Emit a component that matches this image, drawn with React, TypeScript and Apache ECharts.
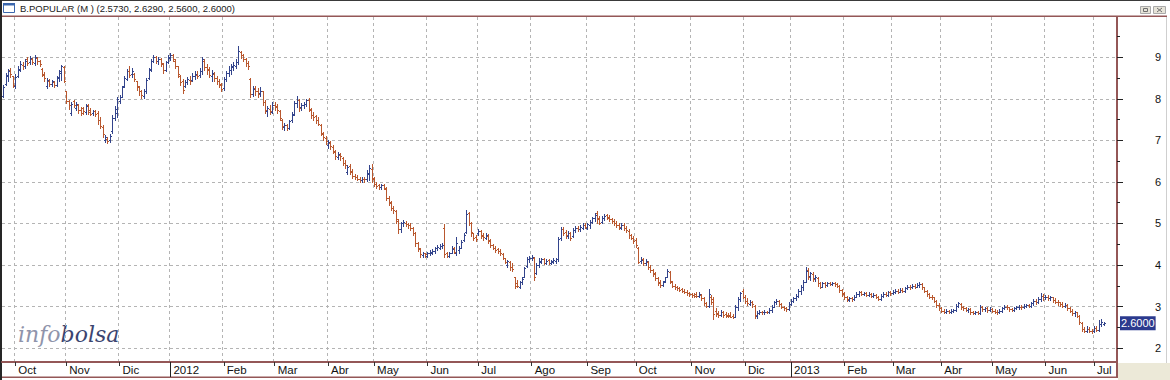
import React, { useEffect, useRef } from 'react';
import * as echarts from 'echarts';

// Daily bars: [open, high, low, close]
const sep11 = [[8.08,8.33,8.05,8.28],[8.35,8.62,8.33,8.58],[8.55,8.72,8.42,8.66],[8.70,8.74,8.53,8.60],[8.55,8.56,8.28,8.34]];
const oct11 = [[8.30,8.60,8.26,8.52],[8.55,8.80,8.52,8.72],[8.70,8.90,8.66,8.85],[8.82,8.88,8.72,8.78],[8.78,8.96,8.74,8.92],[8.95,9.00,8.82,8.86],[8.88,9.02,8.84,8.98],[8.96,8.99,8.83,8.88],[8.86,9.06,8.81,9.00],[8.98,9.00,8.85,8.90],[8.90,8.94,8.78,8.84],[8.72,8.74,8.55,8.58],[8.60,8.64,8.44,8.50],[8.30,8.50,8.26,8.46],[8.44,8.47,8.30,8.36],[8.35,8.46,8.30,8.42],[8.40,8.42,8.28,8.33],[8.34,8.55,8.30,8.52],[8.50,8.70,8.42,8.66],[8.62,8.82,8.45,8.78],[8.76,8.80,8.40,8.44]];
const nov11 = [[8.18,8.20,7.90,7.95],[7.95,7.97,7.76,7.85],[7.66,7.93,7.60,7.88],[7.95,7.98,7.80,7.86],[7.78,7.92,7.72,7.88],[7.85,7.88,7.65,7.72],[7.74,7.80,7.60,7.66],[7.78,7.80,7.64,7.70],[7.68,7.88,7.64,7.82],[7.84,7.88,7.63,7.68],[7.72,7.77,7.60,7.64],[7.66,7.74,7.62,7.70],[7.70,7.73,7.58,7.63],[7.66,7.70,7.40,7.50],[7.50,7.56,7.30,7.34],[7.32,7.36,7.08,7.15],[7.02,7.12,6.96,7.08],[7.04,7.08,6.94,6.98],[7.00,7.16,6.97,7.10],[7.22,7.60,7.17,7.55],[7.55,7.82,7.50,7.76],[7.65,8.05,7.57,8.00]];
const dec11 = [[7.95,8.10,7.90,8.05],[8.05,8.32,8.05,8.28],[8.30,8.54,8.28,8.50],[8.48,8.72,8.45,8.66],[8.68,8.78,8.52,8.58],[8.60,8.74,8.52,8.68],[8.60,8.62,8.44,8.48],[8.42,8.44,8.22,8.28],[8.30,8.32,8.10,8.20],[8.18,8.22,8.02,8.10],[8.08,8.24,8.02,8.18],[8.20,8.50,8.15,8.45],[8.50,8.74,8.48,8.70],[8.72,8.96,8.66,8.92],[8.92,9.05,8.88,9.00],[9.00,9.02,8.86,8.90],[8.90,9.00,8.84,8.95],[8.96,8.98,8.80,8.86],[8.84,8.86,8.62,8.70],[8.70,8.92,8.66,8.88],[8.88,9.05,8.86,9.00]];
const jan12 = [[8.98,9.10,8.94,9.05],[9.05,9.08,8.90,8.95],[8.92,8.96,8.74,8.80],[8.78,8.80,8.52,8.60],[8.55,8.58,8.34,8.40],[8.42,8.48,8.14,8.22],[8.30,8.46,8.28,8.40],[8.40,8.52,8.36,8.48],[8.46,8.55,8.36,8.42],[8.45,8.62,8.42,8.55],[8.55,8.66,8.48,8.60],[8.58,8.68,8.50,8.56],[8.58,8.74,8.52,8.68],[8.66,9.00,8.60,8.95],[8.92,8.96,8.70,8.76],[8.76,8.84,8.60,8.70],[8.72,8.76,8.52,8.58],[8.56,8.70,8.44,8.62],[8.60,8.64,8.42,8.50],[8.50,8.56,8.36,8.44],[8.44,8.48,8.28,8.35],[8.34,8.38,8.20,8.24]];
const feb12 = [[8.25,8.52,8.22,8.48],[8.48,8.66,8.44,8.62],[8.62,8.80,8.55,8.70],[8.70,8.84,8.60,8.78],[8.76,8.88,8.70,8.82],[8.80,8.95,8.74,8.88],[8.88,9.27,8.85,9.15],[9.12,9.16,8.98,9.05],[9.05,9.08,8.90,8.96],[8.95,8.98,8.80,8.86],[8.86,8.90,8.72,8.78],[8.48,8.50,8.05,8.12],[8.12,8.30,8.08,8.24],[8.26,8.30,8.10,8.18],[8.20,8.26,8.05,8.12],[8.14,8.28,8.08,8.20],[8.18,8.20,7.86,7.92],[7.92,7.96,7.65,7.72],[7.70,7.82,7.58,7.78],[7.76,7.84,7.64,7.70],[7.68,7.93,7.65,7.86]];
const mar12 = [[7.86,7.92,7.72,7.80],[7.82,7.88,7.66,7.72],[7.70,7.74,7.50,7.55],[7.50,7.52,7.28,7.34],[7.32,7.42,7.25,7.38],[7.36,7.40,7.24,7.30],[7.30,7.50,7.28,7.46],[7.48,7.68,7.44,7.62],[7.64,7.94,7.62,7.90],[7.90,8.06,7.80,7.98],[7.96,8.00,7.70,7.78],[7.80,7.90,7.72,7.84],[7.84,7.92,7.78,7.88],[7.88,8.00,7.82,7.96],[7.98,8.02,7.70,7.76],[7.74,7.78,7.55,7.62],[7.62,7.68,7.50,7.56],[7.58,7.62,7.42,7.50],[7.50,7.56,7.36,7.40],[7.38,7.40,7.12,7.18],[7.15,7.20,7.00,7.08],[7.06,7.10,6.92,6.98]];
const apr12 = [[6.88,7.00,6.82,6.95],[6.94,6.98,6.80,6.86],[6.84,6.88,6.70,6.74],[6.72,6.76,6.55,6.62],[6.60,6.72,6.54,6.68],[6.66,6.70,6.52,6.62],[6.58,6.60,6.40,6.46],[6.46,6.52,6.34,6.40],[6.24,6.40,6.18,6.36],[6.38,6.42,6.20,6.26],[6.24,6.30,6.10,6.14],[6.14,6.20,6.06,6.12],[6.12,6.17,6.04,6.08],[6.08,6.12,6.00,6.05],[6.04,6.11,6.00,6.08],[6.08,6.12,6.00,6.06],[6.06,6.28,6.02,6.22],[6.20,6.40,6.04,6.34],[6.30,6.42,6.00,6.10]];
const may12 = [[6.08,6.12,5.90,5.95],[5.96,6.00,5.86,5.90],[5.92,5.96,5.84,5.88],[5.88,5.96,5.84,5.92],[5.92,5.94,5.82,5.86],[5.84,5.88,5.56,5.62],[5.62,5.66,5.44,5.52],[5.50,5.54,5.32,5.38],[5.38,5.42,5.26,5.32],[5.30,5.32,5.02,5.10],[5.06,5.10,4.78,4.86],[4.86,5.04,4.80,5.00],[5.00,5.08,4.94,5.04],[5.02,5.06,4.93,4.98],[4.98,5.02,4.90,4.96],[4.96,5.00,4.84,4.88],[4.88,4.92,4.72,4.78],[4.76,4.80,4.46,4.54],[4.52,4.56,4.34,4.40],[4.38,4.42,4.20,4.26],[4.24,4.32,4.20,4.28],[4.28,4.30,4.20,4.26]];
const jun12 = [[4.22,4.32,4.20,4.28],[4.28,4.36,4.24,4.32],[4.30,4.38,4.26,4.34],[4.34,4.44,4.30,4.40],[4.40,4.48,4.36,4.44],[4.42,4.50,4.38,4.46],[4.46,4.52,4.40,4.48],[4.90,4.98,4.20,4.26],[4.28,4.32,4.20,4.22],[4.22,4.32,4.20,4.28],[4.30,4.45,4.28,4.38],[4.40,4.44,4.28,4.32],[4.30,4.67,4.25,4.52],[4.36,4.46,4.28,4.40],[4.42,4.60,4.40,4.56],[4.60,4.76,4.58,4.72],[4.80,5.32,4.77,5.22],[5.24,5.28,4.97,5.02],[5.00,5.04,4.70,4.80],[4.76,4.78,4.60,4.66],[4.68,4.72,4.58,4.62]];
const jul12 = [[4.76,4.86,4.72,4.82],[4.82,4.84,4.64,4.70],[4.72,4.76,4.60,4.68],[4.66,4.78,4.62,4.72],[4.70,4.74,4.54,4.60],[4.58,4.62,4.44,4.48],[4.48,4.50,4.38,4.42],[4.42,4.46,4.32,4.36],[4.38,4.42,4.28,4.34],[4.34,4.38,4.24,4.28],[4.26,4.30,4.14,4.18],[4.16,4.18,4.04,4.08],[4.00,4.12,3.96,4.10],[4.08,4.10,3.88,3.94],[3.96,4.05,3.86,3.90],[3.70,3.72,3.44,3.50],[3.56,3.64,3.46,3.50],[3.48,3.62,3.45,3.58],[3.58,3.72,3.55,3.66],[3.72,3.96,3.70,3.92],[3.98,4.20,3.96,4.15],[4.14,4.22,4.08,4.18]];
const aug12 = [[4.16,4.24,4.12,4.20],[4.18,4.20,3.65,3.72],[3.80,4.06,3.78,4.00],[4.00,4.16,3.96,4.10],[4.08,4.18,4.04,4.14],[4.14,4.16,4.02,4.06],[4.06,4.14,4.02,4.10],[4.12,4.14,4.02,4.06],[4.06,4.12,4.03,4.10],[4.08,4.16,4.04,4.12],[4.10,4.18,4.06,4.14],[4.14,4.67,4.10,4.62],[4.64,4.92,4.60,4.86],[4.86,4.92,4.72,4.78],[4.80,4.84,4.66,4.72],[4.70,4.82,4.64,4.78],[4.76,4.80,4.60,4.66],[4.70,4.88,4.68,4.84],[4.84,4.94,4.80,4.90],[4.90,4.94,4.82,4.86],[4.86,4.96,4.82,4.92],[4.90,5.00,4.86,4.96],[4.96,5.00,4.88,4.92]];
const sep12 = [[4.90,5.02,4.86,4.98],[4.96,5.08,4.90,5.04],[5.04,5.16,5.00,5.12],[5.12,5.24,5.06,5.20],[5.24,5.30,5.02,5.10],[5.12,5.18,4.98,5.02],[5.04,5.18,5.02,5.14],[5.12,5.22,5.08,5.18],[5.20,5.22,5.10,5.14],[5.16,5.20,5.06,5.10],[5.10,5.14,5.00,5.06],[5.06,5.10,4.96,5.00],[5.00,5.06,4.92,4.96],[4.96,5.00,4.86,4.92],[4.88,5.00,4.86,4.96],[4.96,5.00,4.84,4.90],[4.90,4.94,4.80,4.84],[4.82,4.86,4.66,4.72],[4.72,4.74,4.62,4.66],[4.66,4.70,4.54,4.58]];
const oct12 = [[4.60,4.64,4.44,4.48],[4.40,4.43,4.04,4.08],[4.10,4.20,4.04,4.12],[4.14,4.18,4.00,4.06],[4.04,4.14,4.00,4.10],[4.08,4.10,3.90,3.94],[3.96,4.00,3.84,3.88],[3.88,3.90,3.74,3.78],[3.80,3.84,3.64,3.68],[3.68,3.70,3.52,3.56],[3.58,3.64,3.48,3.52],[3.52,3.62,3.50,3.60],[3.62,3.72,3.60,3.70],[3.72,3.90,3.70,3.86],[3.84,3.86,3.56,3.62],[3.60,3.62,3.46,3.50],[3.50,3.54,3.43,3.46],[3.46,3.50,3.40,3.44],[3.44,3.46,3.37,3.40],[3.42,3.45,3.36,3.38],[3.38,3.42,3.32,3.36],[3.36,3.40,3.28,3.32],[3.32,3.36,3.26,3.30]];
const nov12 = [[3.30,3.33,3.24,3.28],[3.28,3.32,3.24,3.26],[3.30,3.34,3.23,3.26],[3.25,3.34,3.24,3.30],[3.28,3.30,3.16,3.20],[3.20,3.22,3.04,3.08],[3.08,3.12,2.98,3.02],[3.02,3.42,3.00,3.30],[3.24,3.28,3.05,3.10],[3.18,3.22,2.70,2.82],[2.90,2.96,2.78,2.82],[2.84,2.90,2.76,2.80],[2.80,2.92,2.77,2.86],[2.86,2.90,2.74,2.80],[2.82,2.86,2.74,2.78],[2.80,2.84,2.75,2.78],[2.80,2.86,2.74,2.76],[2.78,2.82,2.73,2.76],[2.76,3.03,2.75,2.98],[2.98,3.22,2.92,3.18],[3.18,3.36,3.14,3.32],[3.38,3.42,3.20,3.24]];
const dec12 = [[3.24,3.28,3.08,3.14],[3.14,3.20,3.04,3.08],[3.06,3.16,3.04,3.12],[3.12,3.14,3.00,3.06],[3.02,3.04,2.72,2.80],[2.78,2.90,2.72,2.84],[2.84,2.92,2.82,2.88],[2.88,2.90,2.83,2.86],[2.86,2.91,2.82,2.88],[2.88,2.90,2.84,2.86],[2.86,2.96,2.84,2.92],[2.92,3.03,2.88,3.00],[3.00,3.14,2.98,3.10],[3.10,3.18,3.06,3.14],[3.14,3.16,3.02,3.06],[3.06,3.08,2.96,3.00],[3.00,3.02,2.92,2.96],[2.96,3.00,2.90,2.94],[2.94,3.10,2.92,3.06]];
const jan13 = [[3.06,3.18,3.04,3.14],[3.14,3.24,3.10,3.20],[3.20,3.30,3.16,3.26],[3.26,3.42,3.24,3.38],[3.38,3.52,3.30,3.48],[3.48,3.63,3.40,3.58],[3.60,3.95,3.58,3.86],[3.88,3.92,3.66,3.72],[3.74,3.84,3.64,3.80],[3.78,3.82,3.62,3.66],[3.68,3.76,3.62,3.70],[3.68,3.70,3.50,3.56],[3.56,3.58,3.44,3.48],[3.48,3.60,3.46,3.56],[3.56,3.58,3.48,3.52],[3.52,3.59,3.50,3.56],[3.56,3.58,3.51,3.54],[3.54,3.59,3.51,3.56],[3.56,3.58,3.50,3.54],[3.54,3.57,3.46,3.50],[3.50,3.52,3.36,3.40],[3.40,3.42,3.26,3.30]];
const feb13 = [[3.32,3.36,3.18,3.22],[3.22,3.26,3.14,3.18],[3.16,3.24,3.14,3.20],[3.20,3.24,3.14,3.18],[3.18,3.28,3.16,3.24],[3.24,3.34,3.22,3.30],[3.30,3.38,3.26,3.34],[3.34,3.37,3.27,3.30],[3.30,3.36,3.27,3.32],[3.32,3.35,3.25,3.28],[3.28,3.34,3.25,3.30],[3.30,3.33,3.23,3.26],[3.26,3.32,3.22,3.28],[3.28,3.31,3.20,3.24],[3.24,3.26,3.15,3.18],[3.18,3.30,3.15,3.26],[3.26,3.34,3.23,3.30],[3.30,3.35,3.25,3.28],[3.28,3.38,3.26,3.34],[3.34,3.38,3.28,3.32]];
const mar13 = [[3.32,3.40,3.29,3.36],[3.36,3.42,3.32,3.38],[3.38,3.42,3.33,3.36],[3.36,3.44,3.34,3.40],[3.40,3.44,3.35,3.38],[3.38,3.48,3.36,3.44],[3.44,3.52,3.42,3.48],[3.48,3.52,3.43,3.46],[3.46,3.54,3.44,3.50],[3.50,3.54,3.45,3.48],[3.48,3.56,3.46,3.52],[3.52,3.59,3.48,3.54],[3.54,3.56,3.42,3.46],[3.46,3.48,3.34,3.38],[3.38,3.40,3.26,3.30],[3.30,3.32,3.20,3.24],[3.24,3.28,3.18,3.22],[3.22,3.24,3.10,3.14],[3.14,3.16,3.00,3.04],[3.04,3.08,2.92,2.96]];
const apr13 = [[2.96,2.98,2.86,2.90],[2.90,2.93,2.85,2.88],[2.88,2.93,2.85,2.90],[2.90,2.92,2.84,2.87],[2.87,2.93,2.85,2.90],[2.90,2.95,2.86,2.92],[2.92,3.06,2.90,3.02],[3.02,3.12,2.98,3.08],[3.06,3.08,2.94,2.98],[2.98,3.02,2.92,2.96],[2.96,2.98,2.89,2.92],[2.92,2.97,2.88,2.94],[2.94,2.96,2.83,2.86],[2.86,2.89,2.81,2.84],[2.84,2.90,2.81,2.86],[2.86,2.90,2.82,2.84],[2.84,3.04,2.83,2.98],[2.98,3.02,2.90,2.94],[2.94,3.00,2.90,2.96],[2.96,2.99,2.88,2.92],[2.92,2.98,2.89,2.94]];
const may13 = [[2.94,2.96,2.86,2.90],[2.90,2.93,2.85,2.88],[2.88,2.91,2.83,2.86],[2.86,2.93,2.84,2.90],[2.90,2.99,2.88,2.96],[2.96,3.04,2.94,3.00],[3.00,3.04,2.94,2.98],[2.98,3.00,2.90,2.94],[2.94,2.97,2.89,2.92],[2.92,2.99,2.90,2.96],[2.96,3.01,2.93,2.98],[2.98,3.03,2.95,3.00],[3.00,3.04,2.95,2.98],[2.98,3.05,2.96,3.02],[3.02,3.07,2.98,3.04],[3.04,3.07,2.99,3.02],[3.02,3.12,3.00,3.08],[3.08,3.18,3.04,3.14],[3.14,3.18,3.06,3.10],[3.10,3.24,3.08,3.18],[3.18,3.32,3.14,3.26],[3.26,3.30,3.16,3.22]];
const jun13 = [[3.22,3.28,3.18,3.24],[3.24,3.28,3.16,3.20],[3.20,3.26,3.16,3.22],[3.22,3.24,3.12,3.16],[3.16,3.20,3.08,3.12],[3.12,3.16,3.04,3.10],[3.10,3.12,3.02,3.06],[3.06,3.10,2.98,3.02],[3.02,3.08,2.98,3.04],[3.04,3.06,2.92,2.96],[2.96,2.98,2.86,2.90],[2.90,2.94,2.80,2.84],[2.84,2.90,2.78,2.86],[2.86,2.88,2.74,2.78],[2.78,2.80,2.58,2.62],[2.60,2.62,2.42,2.46],[2.46,2.50,2.38,2.42],[2.42,2.52,2.39,2.46],[2.46,2.50,2.38,2.42],[2.42,2.46,2.36,2.40]];
const jul13 = [[2.40,2.54,2.38,2.48],[2.48,2.52,2.40,2.44],[2.44,2.68,2.42,2.58],[2.58,2.70,2.54,2.62],[2.573,2.629,2.56,2.60]];

const MONTH_BARS = [sep11, oct11, nov11, dec11, jan12, feb12, mar12, apr12, may12, jun12, jul12, aug12, sep12, oct12, nov12, dec12, jan13, feb13, mar13, apr13, may13, jun13, jul13];
const MONTH_LABELS = ['', 'Oct', 'Nov', 'Dic', '2012', 'Feb', 'Mar', 'Abr', 'May', 'Jun', 'Jul', 'Ago', 'Sep', 'Oct', 'Nov', 'Dic', '2013', 'Feb', 'Mar', 'Abr', 'May', 'Jun', 'Jul'];
const PAD_SLOTS = 5;
const Y_TICKS = [2, 3, 4, 5, 6, 7, 8, 9];
const Y_MINOR = [2.5, 3.5, 4.5, 5.5, 6.5, 7.5, 8.5, 9.5];
const SYMBOL = 'B.POPULAR (M )';

const BLUE = '#33448c';
const RED = '#b9582f';
const FRAME = '#945757';
const GRIDC = '#b4b4b4';

export default function App() {
  const ref = useRef<HTMLDivElement>(null);
  useEffect(() => {
    document.body.style.margin = '0';
    const chart = echarts.init(ref.current!, null, { renderer: 'svg' });
    const cats: string[] = [];
    const labels: string[] = [];
    const data: number[][] = [];
    MONTH_BARS.forEach((bars, m) => {
      bars.forEach((b, k) => {
        const idx = cats.length;
        cats.push(m + '-' + k);
        labels.push(k === 0 ? MONTH_LABELS[m] : '');
        data.push([idx, b[0], b[1], b[2], b[3]]);
      });
    });
    for (let p = 0; p < PAD_SLOTS; p++) { cats.push('pad-' + p); labels.push(''); }
    const isMonth = (i: number) => !!labels[i];
    const isYear = (i: number) => /^\d{4}$/.test(labels[i] || '');
    const last = data[data.length - 1];
    const title = SYMBOL + ' (' + [last[1], last[2], last[3], last[4]].map((v) => v.toFixed(4)).join(', ') + ')';
    const lastClose = last[4];

    const yBase = { type: 'value', min: 1.665, max: 9.97, position: 'right', scale: true };

    chart.setOption({
      animation: false,
      backgroundColor: '#ffffff',
      grid: { left: 2, right: 53, top: 17, bottom: 18, containLabel: false },
      xAxis: [
        {
          type: 'category', data: cats, boundaryGap: true, position: 'bottom',
          axisLine: { show: true, lineStyle: { color: FRAME, width: 2 } },
          axisTick: { show: true, alignWithLabel: true, interval: (i: number) => isMonth(i), length: 4, lineStyle: { color: '#333', width: 1 } },
          axisLabel: {
            show: true, interval: (i: number) => isMonth(i), formatter: (_v: string, i: number) => labels[i],
            align: 'left', margin: 2, padding: [0, 0, 0, 3], color: '#111', fontSize: 11.5, fontFamily: 'Liberation Sans',
          },
          splitLine: { show: true, interval: (i: number) => isMonth(i), lineStyle: { color: GRIDC, type: [3, 3], width: 1 } },
        },
        {
          type: 'category', data: cats, boundaryGap: true, position: 'bottom',
          axisLine: { show: false },
          axisTick: { show: true, alignWithLabel: true, interval: (i: number) => isYear(i), length: 15, lineStyle: { color: '#222', width: 1 } },
          axisLabel: { show: false },
          splitLine: { show: false },
        },
      ],
      yAxis: [
        {
          ...yBase,
          axisLine: { show: true, lineStyle: { color: FRAME, width: 2 } },
          axisTick: { show: true, customValues: Y_TICKS, length: 6, lineStyle: { color: '#222', width: 1 } },
          axisLabel: { show: true, customValues: Y_TICKS, align: 'right', margin: 44, color: '#111', fontSize: 11, fontFamily: 'Liberation Sans' },
          splitLine: { show: true, lineStyle: { color: GRIDC, type: [3, 3], width: 1 } },
        },
        {
          ...yBase,
          axisLine: { show: false },
          axisTick: { show: true, customValues: Y_MINOR, length: 3, lineStyle: { color: '#222', width: 1 } },
          axisLabel: { show: false },
          splitLine: { show: false },
        },
        {
          ...yBase,
          axisLine: { show: false },
          axisTick: { show: false },
          axisLabel: {
            show: true, customValues: [lastClose], formatter: () => lastClose.toFixed(4),
            align: 'left', margin: 3, color: '#ffffff', backgroundColor: '#2b3a8e', padding: [2, 1, 1, 1],
            fontSize: 11, fontFamily: 'Liberation Sans',
          },
          splitLine: { show: false },
        },
      ],
      series: [
        {
          type: 'custom',
          xAxisIndex: 0,
          yAxisIndex: 0,
          clip: true,
          encode: { x: 0, y: [1, 2, 3, 4] },
          data,
          renderItem: (_params: any, api: any) => {
            const idx = api.value(0);
            const o = api.value(1), h = api.value(2), l = api.value(3), c = api.value(4);
            const po = api.coord([idx, o]);
            const ph = api.coord([idx, h]);
            const pl = api.coord([idx, l]);
            const pc = api.coord([idx, c]);
            const color = c >= o ? BLUE : RED;
            const x = Math.round(po[0]) + 0.5;
            const yo = Math.round(po[1]) + 0.5;
            const yc = Math.round(pc[1]) + 0.5;
            const st = { stroke: color, lineWidth: 1 };
            return {
              type: 'group',
              children: [
                { type: 'line', shape: { x1: x, y1: Math.round(ph[1]), x2: x, y2: Math.round(pl[1]) + 1 }, style: st },
                { type: 'line', shape: { x1: x - 1.5, y1: yo, x2: x, y2: yo }, style: st },
                { type: 'line', shape: { x1: x, y1: yc, x2: x + 1.5, y2: yc }, style: st },
              ],
            };
          },
        },
      ],
      graphic: [
        { type: 'rect', silent: true, shape: { x: 0, y: 0, width: 1170, height: 1 }, style: { fill: '#3a3a3a' } },
        { type: 'rect', silent: true, shape: { x: 0, y: 0, width: 2, height: 380 }, style: { fill: '#262626' } },
        { type: 'rect', silent: true, shape: { x: 2, y: 15.5, width: 1165, height: 1.5 }, style: { fill: FRAME } },
        { type: 'rect', silent: true, shape: { x: 1116, y: 362, width: 2, height: 16 }, style: { fill: FRAME } },
        { type: 'rect', silent: true, shape: { x: 2, y: 376.5, width: 1116, height: 1.5 }, style: { fill: FRAME } },
        { type: 'rect', silent: true, shape: { x: 1118, y: 363, width: 52, height: 17 }, style: { fill: '#ece9d8' } },
        { type: 'rect', silent: true, shape: { x: 1166, y: 17, width: 1, height: 346 }, style: { fill: '#cfcfcf' } },
        // window icon
        { type: 'rect', silent: true, shape: { x: 3.5, y: 3.5, width: 11, height: 9 }, style: { fill: '#ffffff', stroke: '#3a66ad', lineWidth: 1 } },
        { type: 'rect', silent: true, shape: { x: 3, y: 3, width: 12, height: 2.5 }, style: { fill: '#3a66ad' } },
        // title
        { type: 'text', silent: true, x: 20, y: 8.5, style: { text: title, fontSize: 9.5, fontFamily: 'Liberation Sans', fill: '#1a1a1a', verticalAlign: 'middle', align: 'left' } },
        // window buttons
        { type: 'rect', silent: true, shape: { x: 1140.5, y: 6.5, width: 10, height: 7 }, style: { fill: '#e6e3d8', stroke: '#a9a9a9', lineWidth: 1 } },
        { type: 'rect', silent: true, shape: { x: 1143.5, y: 8.5, width: 4, height: 3 }, style: { fill: 'none', stroke: '#6f6f6f', lineWidth: 1 } },
        { type: 'rect', silent: true, shape: { x: 1153.5, y: 6.5, width: 12, height: 7 }, style: { fill: '#e6e3d8', stroke: '#a9a9a9', lineWidth: 1 } },
        { type: 'line', silent: true, shape: { x1: 1157, y1: 8, x2: 1162, y2: 12 }, style: { stroke: '#6f6f6f', lineWidth: 1 } },
        { type: 'line', silent: true, shape: { x1: 1162, y1: 8, x2: 1157, y2: 12 }, style: { stroke: '#6f6f6f', lineWidth: 1 } },
        // watermark
        {
          type: 'text', silent: true, x: 18, y: 334,
          style: {
            text: '{a|info}{b|bolsa}', verticalAlign: 'middle', align: 'left',
            rich: {
              a: { fill: '#8f94ab', fontSize: 22, fontFamily: 'DejaVu Serif', fontStyle: 'italic' },
              b: { fill: '#3b4570', fontSize: 22, fontFamily: 'DejaVu Serif', fontStyle: 'italic' },
            },
          },
        },
      ],
    });
    return () => chart.dispose();
  }, []);
  return <div ref={ref} style={{ width: 1170, height: 380 }} />;
}
